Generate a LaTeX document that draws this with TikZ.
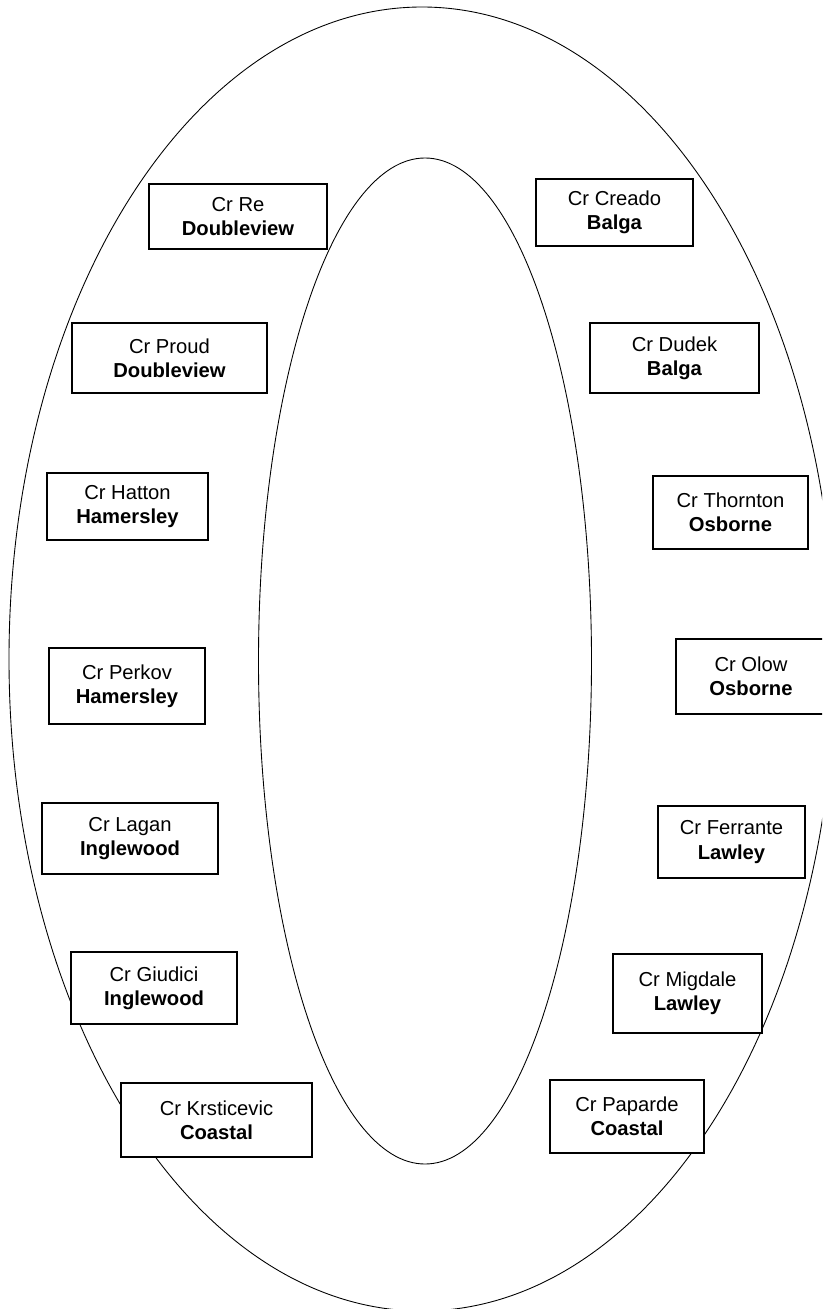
\documentclass[tikz,border=0pt]{standalone}
\usepackage{fontspec}
\setmainfont{Liberation Sans}
\usepackage{tikz}

\begin{document}
\begin{tikzpicture}
    \tikzset{
        ring/.style={
            draw=black,
            line width=0.5pt
        },
        wardbox/.style={
            draw=black,
            fill=white,
            rectangle,
            line width=0.8pt,
            align=center,
            inner sep=0pt,
            font=\fontsize{11.5}{13.8}\selectfont
        }
    }

    % Ramme
    \clip (0,0) rectangle (16.44,-26.18);

    % Ellipser
    \draw[ring] (8.44,-13.18) ellipse [x radius=8.26, y radius=13.04];
    \draw[ring] (8.50,-13.22) ellipse [x radius=3.33, y radius=10.06];

    % Venstre side
    \node[wardbox, minimum width=3.56cm, minimum height=1.30cm] (re)         at (4.76,-4.33)  {Cr Re\\\textbf{Doubleview}};
    \node[wardbox, minimum width=3.90cm, minimum height=1.40cm] (proud)      at (3.39,-7.16)  {Cr Proud\\\textbf{Doubleview}};
    \node[wardbox, minimum width=3.22cm, minimum height=1.34cm] (hatton)     at (2.55,-10.13) {Cr Hatton\\\textbf{Hamersley}};
    \node[wardbox, minimum width=3.12cm, minimum height=1.52cm] (perkov)     at (2.54,-13.72) {Cr Perkov\\\textbf{Hamersley}};
    \node[wardbox, minimum width=3.52cm, minimum height=1.42cm] (lagan)      at (2.60,-16.77) {Cr Lagan\\\textbf{Inglewood}};
    \node[wardbox, minimum width=3.32cm, minimum height=1.44cm] (giudici)    at (3.08,-19.76) {Cr Giudici\\\textbf{Inglewood}};
    \node[wardbox, minimum width=3.82cm, minimum height=1.48cm] (krsticevic) at (4.33,-22.40) {Cr Krsticevic\\\textbf{Coastal}};

    % Høyre side
    \node[wardbox, minimum width=3.14cm, minimum height=1.34cm] (creado)     at (12.29,-4.25)  {Cr Creado\\\textbf{Balga}};
    \node[wardbox, minimum width=3.38cm, minimum height=1.40cm] (dudek)      at (13.49,-7.16)  {Cr Dudek\\\textbf{Balga}};
    \node[wardbox, minimum width=3.10cm, minimum height=1.46cm] (thornton)   at (14.61,-10.25) {Cr Thornton\\\textbf{Osborne}};
    \node[wardbox, minimum width=3.00cm, minimum height=1.50cm] (olow)       at (15.02,-13.53) {Cr Olow\\\textbf{Osborne}};
    \node[wardbox, minimum width=2.94cm, minimum height=1.44cm] (ferrante)   at (14.63,-16.84) {Cr Ferrante\\\textbf{Lawley}};
    \node[wardbox, minimum width=2.98cm, minimum height=1.58cm] (migdale)    at (13.75,-19.87) {Cr Migdale\\\textbf{Lawley}};
    \node[wardbox, minimum width=3.08cm, minimum height=1.46cm] (paparde)    at (12.54,-22.33) {Cr Paparde\\\textbf{Coastal}};
\end{tikzpicture}
\end{document}
